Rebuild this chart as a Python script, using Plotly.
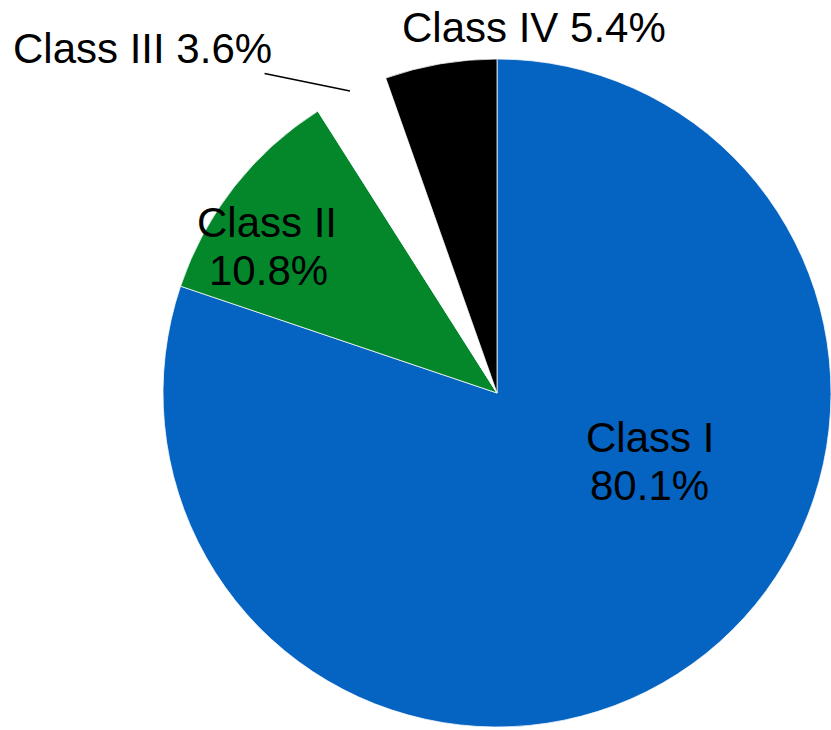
import plotly.graph_objects as go

labels = ["Class I", "Class II", "Class III", "Class IV"]
values = [80.1, 10.8, 3.6, 5.4]
colors = ["#0563C1", "#04872B", "#FFFFFF", "#000000"]

W, H = 831, 730
FONT = dict(family="Liberation Sans, Arial, sans-serif", size=42, color="#000000")

fig = go.Figure(go.Pie(
    labels=labels,
    values=values,
    sort=False,
    direction="clockwise",
    rotation=0,
    textinfo="none",
    hoverinfo="label+value",
    marker=dict(colors=colors, line=dict(color="#FFFFFF", width=0.75)),
    domain=dict(x=[163 / W, 1.0], y=[1 / H, 1 - 57 / H]),
    showlegend=False,
))

pct = [f"{v:.1f}%" for v in values]


def px(x, y):
    return x / W, 1 - y / H


annotations = []
for text, (x, y) in [(labels[0], (649.5, 437.5)), (pct[0], (649.5, 485.5)),
                     (labels[1], (266.5, 222.5)), (pct[1], (268.5, 270.5))]:
    ax_, ay_ = px(x, y)
    annotations.append(dict(text=text, x=ax_, y=ay_, xref="paper", yref="paper",
                            xanchor="center", yanchor="middle", showarrow=False, font=FONT))

x4, y4 = px(533.5, 27.5)
annotations.append(dict(text=f"{labels[3]} {pct[3]}", x=x4, y=y4, xref="paper", yref="paper",
                        xanchor="center", yanchor="middle", showarrow=False, font=FONT))

x3, y3 = px(350, 91)
annotations.append(dict(text=f"{labels[2]} {pct[2]}", x=x3, y=y3, xref="paper", yref="paper",
                        showarrow=True, arrowhead=0, arrowwidth=1.5, arrowcolor="#000000",
                        ax=142.5 - 350, ay=48.5 - 91, font=FONT))

fig.update_layout(
    width=W, height=H,
    margin=dict(l=0, r=0, t=0, b=0),
    paper_bgcolor="#FFFFFF",
    plot_bgcolor="#FFFFFF",
    annotations=annotations,
)

fig.write_html("out.html", config={"displayModeBar": False},
               post_script="document.body.style.margin='0';")
